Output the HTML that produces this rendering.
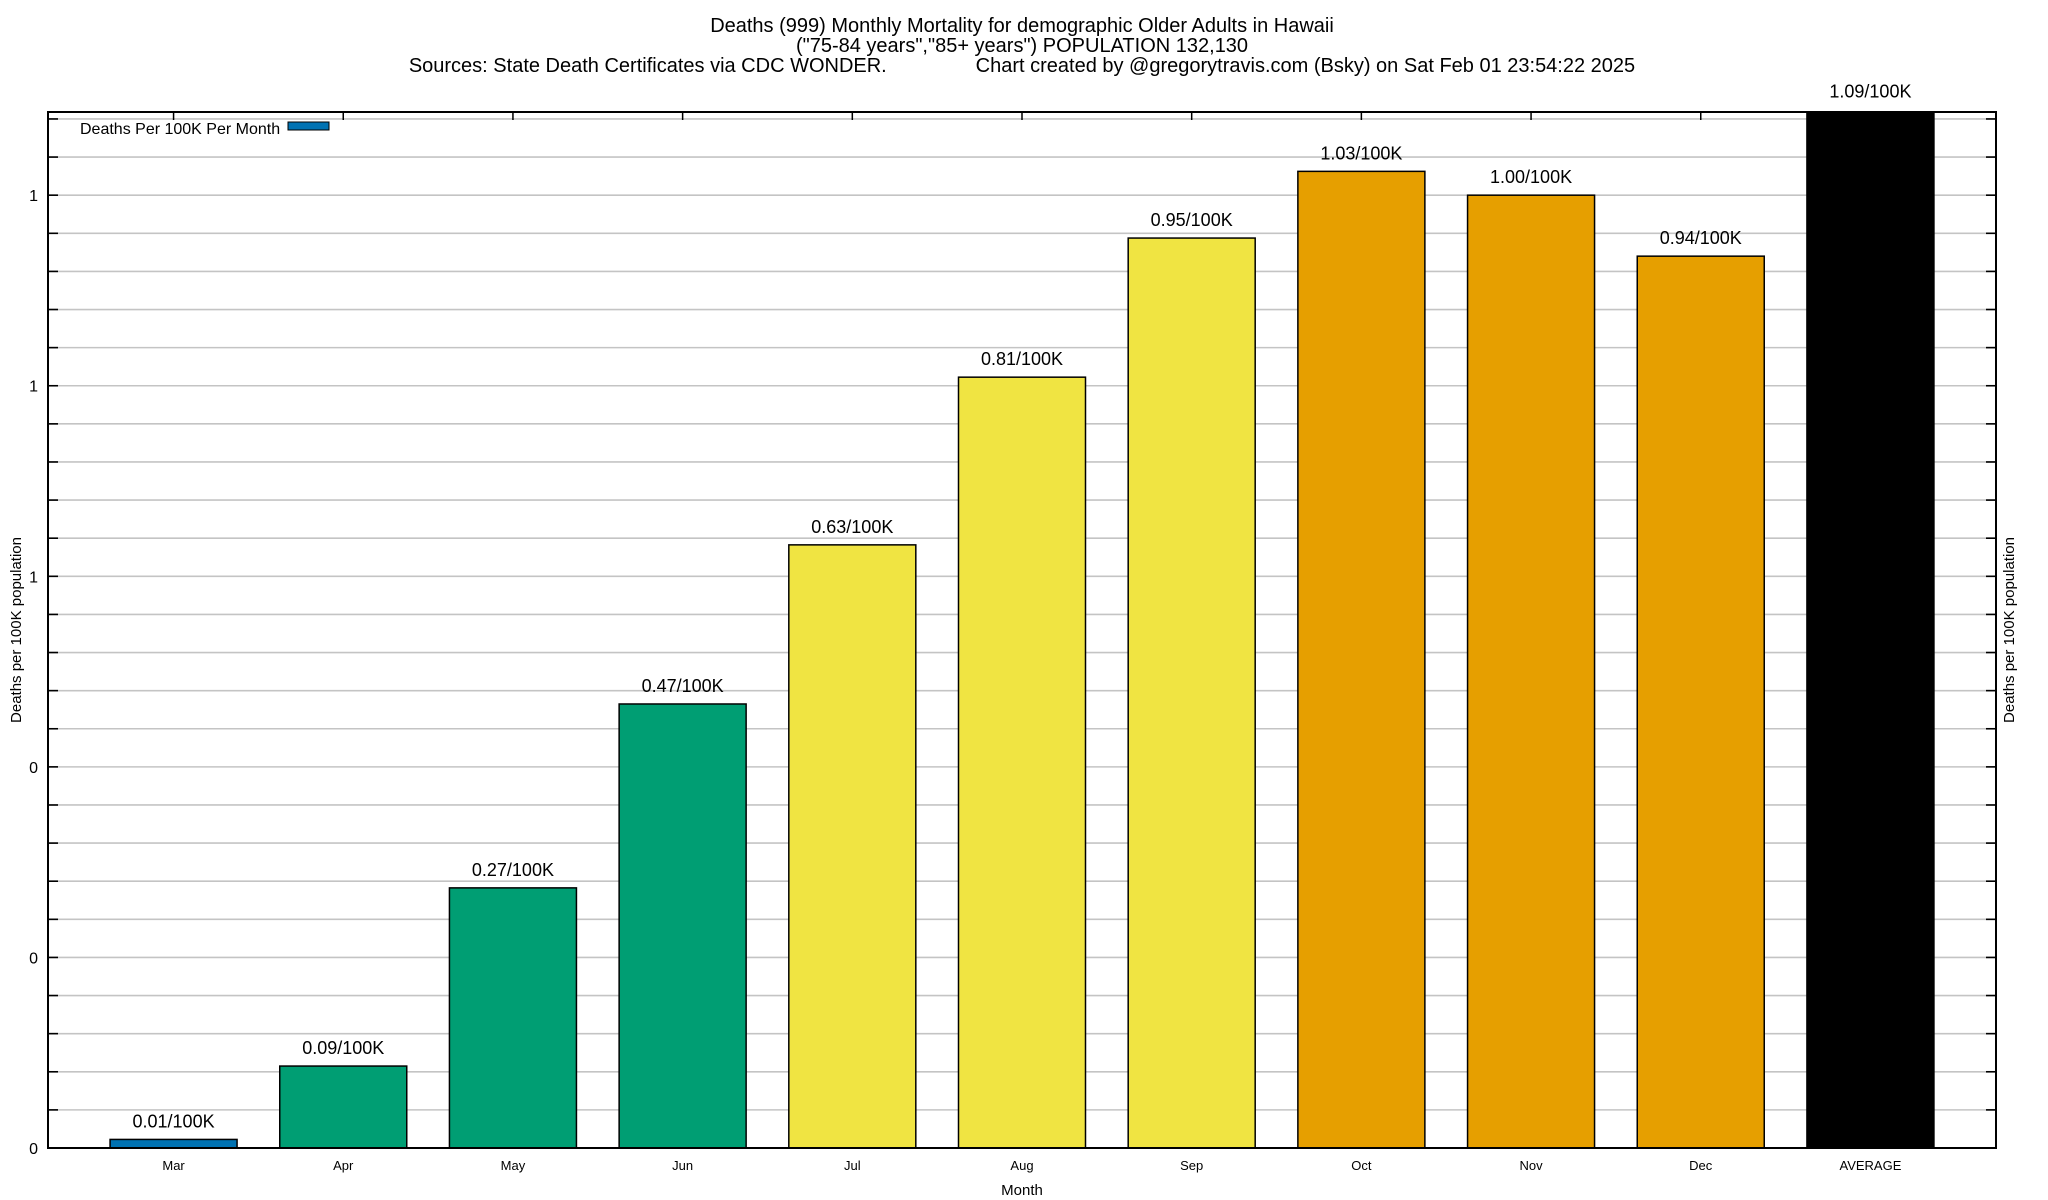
<!DOCTYPE html>
<html><head><meta charset="utf-8"><style>
html,body{margin:0;padding:0;background:#fff;}
svg{display:block;font-family:"Liberation Sans",Arial,sans-serif;}
</style></head><body>
<svg id="chart" width="2048" height="1200" viewBox="0 0 2048 1200" xmlns="http://www.w3.org/2000/svg">
<g font-size="20" text-anchor="middle" fill="#000">
<text x="1022" y="32">Deaths (999) Monthly Mortality for demographic Older Adults in Hawaii</text>
<text x="1022" y="52">("75-84 years","85+ years") POPULATION 132,130</text>
<text x="1022" y="72" xml:space="preserve">Sources: State Death Certificates via CDC WONDER.                Chart created by @gregorytravis.com (Bsky) on Sat Feb 01 23:54:22 2025</text>
</g>
<g id="grid"></g>
<g id="bars"></g>
<rect x="48" y="112" width="1948" height="1036" fill="none" stroke="#000" stroke-width="2"/>
<g id="ticks"></g>
<g>
<text x="80" y="134" font-size="16">Deaths Per 100K Per Month</text>
<rect x="288" y="122" width="41" height="8" fill="#0072b2" stroke="#000" stroke-width="1"/>
</g>
<text transform="translate(21,630) rotate(-90)" text-anchor="middle" font-size="15">Deaths per 100K population</text>
<text transform="translate(2014,630) rotate(-90)" text-anchor="middle" font-size="15">Deaths per 100K population</text>
<text x="1022" y="1195" text-anchor="middle" font-size="15">Month</text>
</svg>
<script>
const categories = ["Mar","Apr","May","Jun","Jul","Aug","Sep","Oct","Nov","Dec","AVERAGE"];
const values = [0.009,0.086,0.273,0.466,0.633,0.809,0.955,1.025,1.000,0.936,1.09];
const valueLabels = ["0.01/100K","0.09/100K","0.27/100K","0.47/100K","0.63/100K","0.81/100K","0.95/100K","1.03/100K","1.00/100K","0.94/100K","1.09/100K"];
const barColors = ["#0072b2","#009e73","#009e73","#009e73","#f0e442","#f0e442","#f0e442","#e69f00","#e69f00","#e69f00","#000000"];
const yTickValues = [0,0.2,0.4,0.6,0.8,1.0];
const yTickLabels = ["0","0","0","1","1","1"];

const NS = "http://www.w3.org/2000/svg";
const L=48,R=1996,T=112,B=1148;
const xMin=-0.74,xMax=10.74,yMin=0,yMax=1.0873;
function xs(i){return L+(i-xMin)/(xMax-xMin)*(R-L);}
function ys(v){return B-(v-yMin)/(yMax-yMin)*(B-T);}
function mk(tag,attrs,parent){const e=document.createElementNS(NS,tag);for(const k in attrs)e.setAttribute(k,attrs[k]);parent.appendChild(e);return e;}
const grid=document.getElementById('grid'),bars=document.getElementById('bars'),ticks=document.getElementById('ticks');
const step=0.04;
for(let k=1;k*step<yMax;k++){
  const y=ys(k*step);
  const g=mk('line',{x1:L,x2:R,y1:y,y2:y,stroke:'#c4c4c4','stroke-width':1.6},grid);
  
  
  const t1=mk('line',{x1:L,x2:L+10,y1:y,y2:y,stroke:'#000','stroke-width':1.6},ticks);
  
  
  const t2=mk('line',{x1:R-10,x2:R,y1:y,y2:y,stroke:'#000','stroke-width':1.6},ticks);
  
  
}
yTickValues.forEach((v,i)=>{
  const t=mk('text',{x:38,y:ys(v)+6,'text-anchor':'end','font-size':16},ticks);
  t.textContent=yTickLabels[i];
  
  
});
const bw=127;
categories.forEach((c,i)=>{
  const cx=xs(i),top=ys(Math.min(values[i],yMax));
  const r=mk('rect',{x:cx-bw/2,y:top,width:bw,height:B-top,fill:barColors[i],stroke:'#000','stroke-width':1.5},bars);
  
  
  const lb=mk('text',{x:cx,y:ys(values[i])-12,'text-anchor':'middle','font-size':18},bars);
  lb.textContent=valueLabels[i];
  
  
  const tl=mk('text',{x:cx,y:1170,'text-anchor':'middle','font-size':13},ticks);
  tl.textContent=c;
  
  
  const tt=mk('line',{x1:cx,x2:cx,y1:T,y2:T+8,stroke:'#000','stroke-width':1.5},ticks);
  
  
});
</script>
</body></html>
